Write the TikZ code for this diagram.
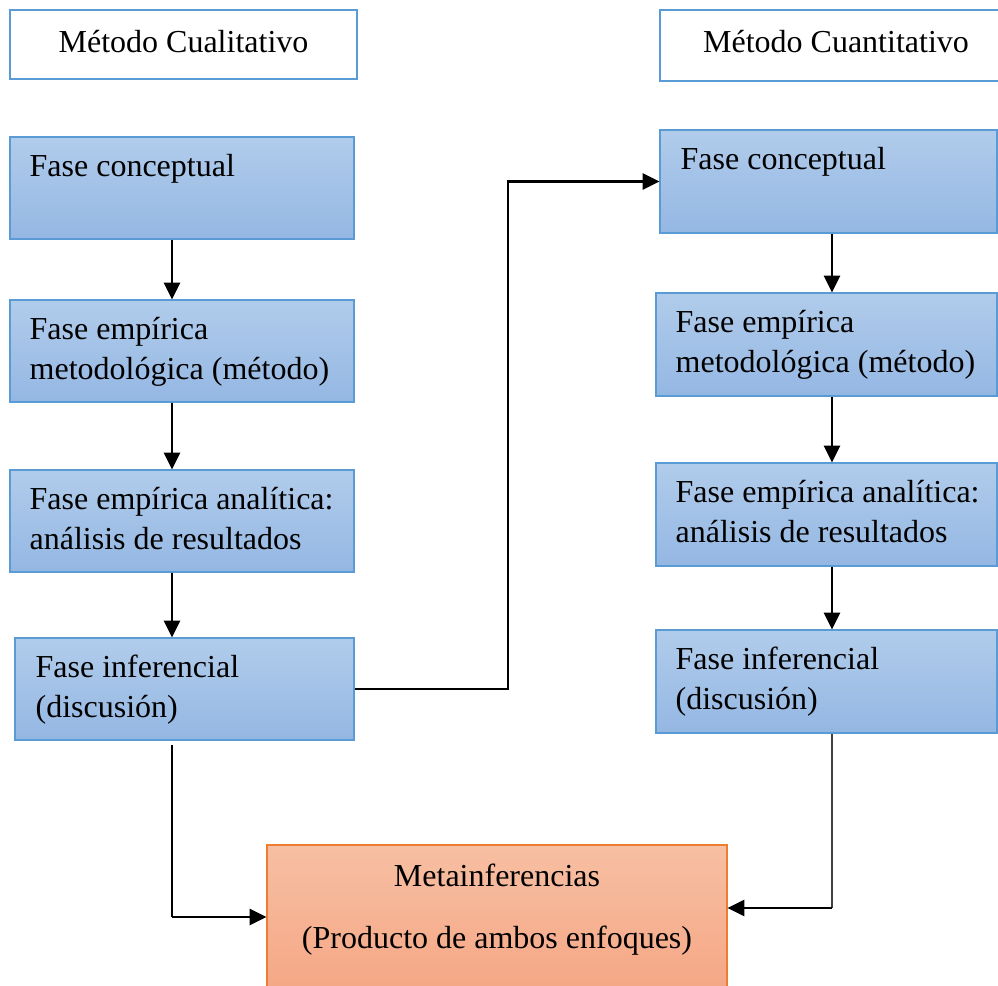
\documentclass[tikz,border=0pt]{standalone}
\usepackage{fontspec}
\setmainfont{Liberation Serif}
\usetikzlibrary{arrows.meta,calc}
\definecolor{bluetop}{RGB}{177,204,235}
\definecolor{bluebot}{RGB}{148,183,227}
\definecolor{blueline}{RGB}{91,155,213}
\definecolor{orgtop}{RGB}{247,191,163}
\definecolor{orgbot}{RGB}{245,166,132}
\definecolor{orgline}{RGB}{237,125,49}
\tikzset{
  bluebox/.style={draw=blueline, line width=0.9pt, top color=bluetop, bottom color=bluebot, inner sep=0pt},
  headbox/.style={draw=blueline, line width=1.9pt, fill=white, inner sep=0pt},
  orgbox/.style={draw=orgline, line width=0.9pt, top color=orgtop, bottom color=orgbot, inner sep=0pt},
  boxtext/.style={font=\fontsize{24pt}{30pt}\selectfont, anchor=base west, inner sep=0pt, text width=250pt, align=flush left},
  headtext/.style={font=\fontsize{24pt}{30pt}\selectfont, anchor=base, inner sep=0pt},
  arr/.style={line width=1.7pt, -{Triangle[length=12.5pt,width=12pt]}},
  plainline/.style={line width=0.8pt},
}
\begin{document}
\begin{tikzpicture}[x=0.75pt,y=-0.75pt]
\useasboundingbox (0,0) rectangle (998,985);
% headers
\node[headbox, minimum width=260.25pt, minimum height=51.75pt] (hl) at (183.5,44.5) {};
\node[headtext] (hlt) at (183.5,52) {Método Cualitativo};
\node[headbox, minimum width=262.5pt, minimum height=53.25pt] (hr) at (835,45.5) {};
\node[headtext] (hrt) at (836,52) {Método Cuantitativo};
% left column
\node[bluebox, minimum width=258pt, minimum height=76.5pt] (lc1) at (182,188) {};
\node[boxtext] (lc1t) at ($(lc1.north west)+(20,40)$) {Fase conceptual};
\node[bluebox, minimum width=258pt, minimum height=76.5pt] (lc2) at (182,351) {};
\node[boxtext] (lc2t) at ($(lc2.north west)+(20,40)$) {Fase empírica\\metodológica (método)};
\node[bluebox, minimum width=258pt, minimum height=76.5pt] (lc3) at (182,521) {};
\node[boxtext] (lc3t) at ($(lc3.north west)+(20,40)$) {Fase empírica analítica:\\análisis de resultados};
\node[bluebox, minimum width=254.25pt, minimum height=76.5pt] (lc4) at (184.5,689) {};
\node[boxtext] (lc4t) at ($(lc4.north west)+(21,40)$) {Fase inferencial\\(discusión)};
% right column
\node[bluebox, minimum width=252.75pt, minimum height=77.25pt] (rc1) at (828.5,181.5) {};
\node[boxtext] (rc1t) at ($(rc1.north west)+(21,40)$) {Fase conceptual};
\node[bluebox, minimum width=255.75pt, minimum height=77.25pt] (rc2) at (826.5,344.5) {};
\node[boxtext] (rc2t) at ($(rc2.north west)+(20,40)$) {Fase empírica\\metodológica (método)};
\node[bluebox, minimum width=255.75pt, minimum height=77.25pt] (rc3) at (826.5,514.5) {};
\node[boxtext] (rc3t) at ($(rc3.north west)+(20,40)$) {Fase empírica analítica:\\análisis de resultados};
\node[bluebox, minimum width=255.75pt, minimum height=77.25pt] (rc4) at (826.5,681.5) {};
\node[boxtext] (rc4t) at ($(rc4.north west)+(20,40)$) {Fase inferencial\\(discusión)};
% meta
\node[orgbox, minimum width=345pt, minimum height=112.5pt] (meta) at (497,920) {};
\node[headtext] (metat1) at (497,886) {Metainferencias};
\node[headtext] (metat2) at (497,948) {(Producto de ambos enfoques)};
% guide coordinates
\coordinate (cxL) at (172,0);
\coordinate (cxR) at (832,0);
\coordinate (mx) at (508,0);
\coordinate (cornerL) at (172,917);
\coordinate (cornerR) at (832,908);
% connectors
\draw[arr] (lc1.south -| cxL) -- (lc2.north -| cxL);
\draw[arr] (lc2.south -| cxL) -- (lc3.north -| cxL);
\draw[arr] (lc3.south -| cxL) -- (lc4.north -| cxL);
\draw[arr] (rc1.south -| cxR) -- (rc2.north -| cxR);
\draw[arr] (rc2.south -| cxR) -- (rc3.north -| cxR);
\draw[arr] (rc3.south -| cxR) -- (rc4.north -| cxR);
\draw[arr, line width=2pt] (lc4.east) -- (lc4.east -| mx) |- (rc1.west);
\draw[plainline] ([yshift=-3pt]lc4.south -| cxL) -- (cornerL);
\draw[arr] (cornerL) -- (meta.west |- cornerL);
\draw[plainline, draw=black!75, line width=1pt] (rc4.south -| cxR) -- (cornerR);
\draw[arr] (cornerR) -- (meta.east |- cornerR);
\end{tikzpicture}
\end{document}
